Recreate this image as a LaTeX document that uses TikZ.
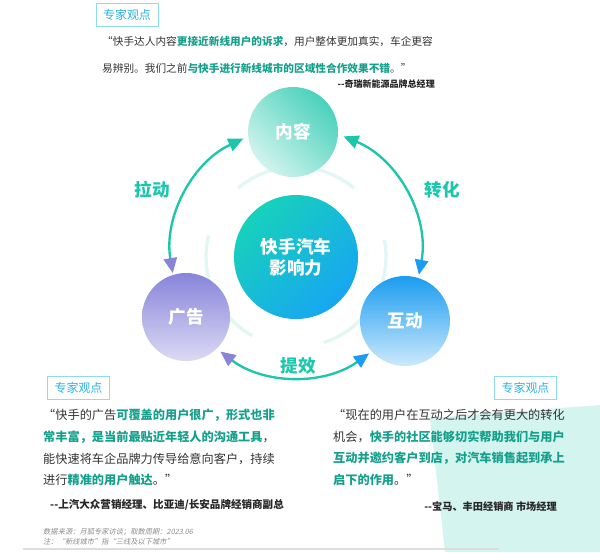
\documentclass[tikz,border=0pt]{standalone}
\usepackage{fontspec}
\setmainfont{Noto Sans CJK SC}
\newfontfamily\notefont{Noto Sans CJK SC}[FakeSlant=0.2]
\usepackage{xcolor}
\usetikzlibrary{arrows.meta, calc}

\definecolor{flowTeal}{HTML}{1CC6AA}
\definecolor{keyTeal}{HTML}{15A08C}
\definecolor{txtGray}{HTML}{333333}
\definecolor{boxCyan}{HTML}{2AB3E0}
\definecolor{boxLine}{HTML}{8EDCEE}
\definecolor{adPurple}{HTML}{8884DA}
\definecolor{hdBlue}{HTML}{1A9CF0}
\definecolor{mintBg}{HTML}{D3F4EF}
\definecolor{ringLight}{HTML}{E2F7F3}
\definecolor{ruleGray}{HTML}{DDDDDD}
\definecolor{noteGray}{HTML}{8C8C8C}

\newcommand{\keytxt}[1]{{\bfseries\color{keyTeal}#1}}

\begin{document}
\begin{tikzpicture}[x=0.03cm, y=0.03cm,
  every node/.style={inner sep=0pt, text=txtGray},
  expertbox/.style={draw=boxLine, line width=0.8pt, fill=white, minimum width=1.86cm, minimum height=0.69cm, text=boxCyan, font=\fontsize{10.2}{12}\selectfont},
  quotetxt/.style={align=left, anchor=north west, font=\fontsize{10.4}{18.5}\selectfont},
  srcline/.style={text=black!85, font=\fontsize{9}{11}\selectfont\bfseries},
  bubble/.style={circle, text=white, align=center, font=\fontsize{15}{18}\selectfont\bfseries},
  flowlbl/.style={text=flowTeal, font=\fontsize{15}{18}\selectfont\bfseries},
  flow/.style={draw=flowTeal, line width=2pt},
  innerring/.style={draw=ringLight, line width=1mm}]
  \useasboundingbox (0,0) rectangle (600,-552);

  % background
  \fill[mintBg] (430,-418) -- (600,-405) -- (600,-552) -- (445,-552) -- cycle;
  \draw[ruleGray, line width=1.2pt] (23,-549) -- (499,-549);

  % rings
  \coordinate (ringc) at (296,-252);
  \coordinate (hubc) at (296,-257);
  \draw[innerring] ($(hubc)+(50:90)$) arc[start angle=50, end angle=130, radius=90];
  \draw[innerring] ($(hubc)+(166:90)$) arc[start angle=166, end angle=241, radius=90];
  \draw[innerring] ($(hubc)+(288:90)$) arc[start angle=288, end angle=371, radius=90];

  \coordinate (ad-n) at ($(ringc)+(189.7:125)$);
  \coordinate (ad-e) at ($(ringc)+(232.8:125)$);
  \coordinate (ct-r) at ($(ringc)+(67.7:125)$);
  \draw[flow, {Triangle[length=4.5mm, width=4mm, color=adPurple]}-{Triangle[length=4.5mm, width=4mm, color=flowTeal]}]
    (ad-n) arc[start angle=189.7, end angle=114.9, radius=125];
  \draw[flow, {Triangle[length=4.5mm, width=4mm, color=flowTeal]}-{Triangle[length=4.5mm, width=4mm, color=hdBlue]}]
    (ct-r) arc[start angle=67.7, end angle=-10.5, radius=125];
  \draw[flow, {Triangle[length=4.5mm, width=4mm, color=adPurple]}-{Triangle[length=4.5mm, width=4mm, color=hdBlue]}]
    (ad-e) arc[start angle=232.8, end angle=305.8, radius=125];

  % circles
  \node[bubble, minimum size=2.7cm, top color=flowTeal!80, bottom color=flowTeal!20, shading angle=-45] (content) at (293,-132) {内容};
  \node[bubble, minimum size=2.64cm, top color=adPurple, bottom color=adPurple!30] (advert) at (186,-317) {广告};
  \node[bubble, minimum size=2.7cm, top color=hdBlue, bottom color=hdBlue!22] (interact) at (405,-321) {互动};
  \node[bubble, minimum size=3.72cm, top color=flowTeal!80!cyan, bottom color=hdBlue!90!cyan, shading angle=45] (hub) at (hubc) {快手汽车\\影响力};

  \node[flowlbl] (pull) at (152,-190) {拉动};
  \node[flowlbl] (convert) at (442,-190) {转化};
  \node[flowlbl] (boost) at (298,-366) {提效};

  % expert quotes
  \node[expertbox] (box-top) at (127,-14.5) {专家观点};
  \node[quotetxt, font=\fontsize{9.1}{23}\selectfont] (quote-top) at (102,-36)
    {“快手达人内容\keytxt{更接近新线用户的诉求}，用户整体更加真实，车企更容\\易辨别。我们之前\keytxt{与快手进行新线城市的区域性合作效果不错}。”};
  \node[srcline, anchor=east, font=\fontsize{7.7}{10}\selectfont\bfseries] (src-top) at (435,-84) {-{}-奇瑞新能源品牌总经理};

  \node[expertbox] (box-left) at (78.5,-388) {专家观点};
  \node[quotetxt] (quote-left) at (43,-409)
    {“快手的广告\keytxt{可覆盖的用户很广，形式也非}\\\keytxt{常丰富，是当前最贴近年轻人的沟通工具}，\\能快速将车企品牌力传导给意向客户，持续\\进行\keytxt{精准的用户触达}。”};
  \node[srcline, anchor=west] (src-left) at (50,-505) {-{}-上汽大众营销经理、比亚迪/长安品牌经销商副总};

  \node[expertbox] (box-right) at (525.5,-388) {专家观点};
  \node[quotetxt] (quote-right) at (333,-409)
    {“现在的用户在互动之后才会有更大的转化\\机会，\keytxt{快手的社区能够切实帮助我们与用户}\\\keytxt{互动并邀约客户到店，对汽车销售起到承上}\\\keytxt{启下的作用}。”};
  \node[srcline, anchor=east, font=\fontsize{8.7}{11}\selectfont\bfseries] (src-right) at (557,-507) {-{}-宝马、丰田经销商 市场经理};

  % footnote
  \node[align=left, anchor=north west, text=noteGray, font=\notefont\fontsize{6.2}{8.5}\selectfont] (note) at (43,-528)
    {数据来源：月狐专家访谈；取数周期：2023.06\\注：“新线城市”指“三线及以下城市”};
\end{tikzpicture}
\end{document}
